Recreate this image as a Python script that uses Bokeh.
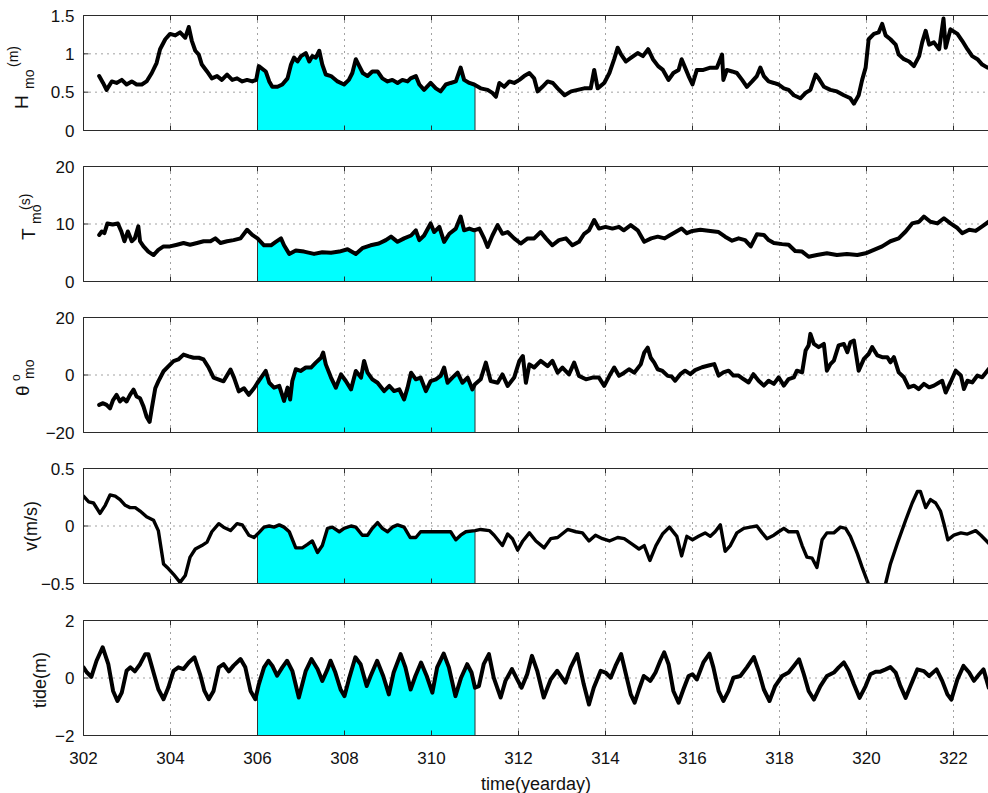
import numpy as np
from math import pi
from bokeh.plotting import figure
from bokeh.layouts import column
from bokeh.models import Range1d
from bokeh.core.properties import value
from bokeh.embed import file_html
from bokeh.resources import INLINE

FONT = "Liberation Sans"
X_START = 302
XTICKS = list(range(302, 323, 2))
XLABEL = "time(yearday)"
FILL_START, FILL_END = 306, 311

# ---------------- data ----------------
H_t = [302.36, 302.45, 302.53, 302.65, 302.76, 302.88, 302.99, 303.11, 303.22, 303.34, 303.45, 303.57,
       303.68, 303.76, 303.88, 303.99, 304.11, 304.22, 304.34, 304.42, 304.49, 304.57, 304.65, 304.72,
       304.84, 304.95, 305.07, 305.18, 305.30, 305.42, 305.53, 305.65, 305.76, 305.88, 305.97, 306.03,
       306.19, 306.27, 306.34, 306.46, 306.57, 306.69, 306.77, 306.84, 306.92, 307.00, 307.11, 307.19,
       307.26, 307.34, 307.42, 307.49, 307.57, 307.69, 307.84, 307.99, 308.10, 308.18, 308.26, 308.34,
       308.42, 308.53, 308.64, 308.76, 308.87, 308.99, 309.10, 309.22, 309.33, 309.45, 309.52, 309.64,
       309.72, 309.83, 309.98, 310.10, 310.21, 310.33, 310.44, 310.56, 310.67, 310.75, 310.87, 310.98,
       311.13, 311.29, 311.40, 311.48, 311.56, 311.67, 311.79, 311.90, 312.02, 312.13, 312.25, 312.36,
       312.44, 312.55, 312.67, 312.79, 312.90, 313.06, 313.21, 313.36, 313.51, 313.66, 313.74, 313.82,
       313.97, 314.09, 314.20, 314.28, 314.36, 314.47, 314.59, 314.74, 314.86, 314.98, 315.09, 315.21,
       315.32, 315.45, 315.56, 315.68, 315.75, 315.83, 315.91, 316.00, 316.10, 316.25, 316.41, 316.56,
       316.68, 316.71, 316.79, 316.91, 317.02, 317.14, 317.25, 317.37, 317.48, 317.56, 317.64, 317.75,
       317.87, 317.98, 318.10, 318.21, 318.33, 318.48, 318.60, 318.71, 318.83, 318.90, 319.02, 319.17,
       319.32, 319.48, 319.63, 319.71, 319.82, 319.90, 319.98, 320.05, 320.17, 320.28, 320.36, 320.44,
       320.55, 320.67, 320.74, 320.86, 320.98, 321.09, 321.21, 321.28, 321.36, 321.44, 321.55, 321.67,
       321.77, 321.82, 321.93, 322.09, 322.20, 322.32, 322.43, 322.55, 322.66, 322.78, 322.90, 323.00]
H_v = [0.71, 0.62, 0.53, 0.64, 0.62, 0.66, 0.60, 0.64, 0.60, 0.60, 0.64, 0.75,
       0.88, 1.06, 1.19, 1.26, 1.24, 1.28, 1.21, 1.35, 1.17, 1.04, 0.99, 0.86,
       0.77, 0.68, 0.71, 0.66, 0.73, 0.66, 0.68, 0.64, 0.66, 0.64, 0.66, 0.84,
       0.77, 0.64, 0.57, 0.57, 0.60, 0.68, 0.86, 0.95, 0.90, 0.97, 1.01, 0.90,
       0.97, 0.95, 1.04, 0.86, 0.73, 0.71, 0.64, 0.60, 0.66, 0.75, 0.93, 0.84,
       0.75, 0.71, 0.77, 0.77, 0.68, 0.64, 0.66, 0.62, 0.66, 0.64, 0.68, 0.71,
       0.60, 0.53, 0.62, 0.55, 0.51, 0.60, 0.62, 0.64, 0.82, 0.66, 0.62, 0.60,
       0.55, 0.53, 0.49, 0.44, 0.62, 0.57, 0.64, 0.62, 0.66, 0.71, 0.75, 0.68,
       0.51, 0.57, 0.64, 0.62, 0.55, 0.46, 0.51, 0.53, 0.55, 0.55, 0.79, 0.55,
       0.62, 0.75, 0.93, 1.08, 0.99, 0.90, 0.95, 1.01, 0.97, 1.06, 0.93, 0.84,
       0.79, 0.66, 0.75, 0.79, 0.93, 0.82, 0.71, 0.60, 0.79, 0.79, 0.82, 0.82,
       0.99, 0.66, 0.79, 0.77, 0.75, 0.66, 0.57, 0.64, 0.71, 0.82, 0.71, 0.64,
       0.62, 0.60, 0.55, 0.53, 0.46, 0.42, 0.49, 0.53, 0.73, 0.68, 0.57, 0.53,
       0.51, 0.46, 0.42, 0.35, 0.46, 0.66, 0.82, 1.19, 1.26, 1.28, 1.39, 1.24,
       1.19, 1.12, 0.99, 0.93, 0.90, 0.84, 0.97, 1.15, 1.30, 1.12, 1.15, 1.06,
       1.46, 1.08, 1.32, 1.26, 1.17, 1.06, 0.97, 0.93, 0.86, 0.82, 0.85, 0.80]

T_t = [302.36, 302.42, 302.48, 302.55, 302.67, 302.79, 302.87, 302.94, 303.02, 303.11, 303.18, 303.26,
       303.30, 303.38, 303.49, 303.61, 303.72, 303.84, 303.99, 304.15, 304.30, 304.45, 304.61, 304.76,
       304.92, 305.03, 305.15, 305.30, 305.45, 305.61, 305.76, 305.88, 306.00, 306.15, 306.31, 306.42,
       306.54, 306.61, 306.73, 306.88, 307.07, 307.30, 307.49, 307.69, 307.88, 308.07, 308.26, 308.41,
       308.60, 308.79, 308.95, 309.07, 309.22, 309.37, 309.53, 309.64, 309.72, 309.83, 309.98, 310.06,
       310.18, 310.29, 310.41, 310.56, 310.67, 310.75, 310.87, 310.98, 311.10, 311.21, 311.29, 311.40,
       311.52, 311.63, 311.75, 311.90, 312.05, 312.21, 312.36, 312.51, 312.63, 312.78, 312.93, 313.09,
       313.24, 313.39, 313.51, 313.62, 313.74, 313.85, 314.00, 314.16, 314.31, 314.42, 314.58, 314.74,
       314.89, 315.05, 315.20, 315.36, 315.47, 315.56, 315.75, 315.87, 316.00, 316.18, 316.41, 316.60,
       316.75, 316.91, 317.06, 317.21, 317.34, 317.48, 317.64, 317.75, 317.87, 318.06, 318.21, 318.36,
       318.52, 318.67, 318.86, 319.09, 319.32, 319.55, 319.79, 319.98, 320.17, 320.36, 320.55, 320.74,
       320.90, 321.05, 321.21, 321.32, 321.47, 321.63, 321.78, 321.93, 322.09, 322.20, 322.36, 322.51,
       322.66, 322.81, 323.00]
T_v = [8.1, 8.7, 8.4, 10.1, 9.9, 10.1, 8.7, 7.0, 8.7, 7.0, 7.5, 9.6,
       7.0, 6.1, 5.2, 4.6, 5.5, 6.1, 6.1, 6.4, 6.7, 6.4, 6.7, 7.0,
       7.0, 7.5, 6.7, 7.0, 7.2, 7.5, 9.0, 8.1, 7.5, 6.3, 6.3, 6.9,
       7.5, 6.3, 4.8, 5.4, 5.2, 4.8, 5.1, 5.0, 5.2, 5.6, 4.8, 5.8,
       6.3, 6.6, 7.2, 7.8, 6.9, 7.5, 8.0, 8.9, 7.2, 8.0, 10.1, 8.6,
       9.5, 6.9, 8.3, 9.2, 11.3, 8.9, 9.2, 8.9, 9.2, 7.5, 6.0, 8.0,
       9.8, 8.3, 8.6, 7.5, 6.6, 7.5, 7.5, 8.6, 7.5, 6.3, 7.2, 7.5,
       6.3, 6.9, 8.3, 8.9, 10.7, 9.2, 9.5, 9.2, 9.5, 8.9, 9.8, 8.9,
       6.9, 7.5, 7.8, 7.5, 8.0, 8.4, 9.2, 8.4, 8.8, 9.0, 8.8, 8.6,
       7.8, 7.1, 7.5, 7.2, 6.1, 8.2, 8.1, 7.2, 6.7, 6.5, 6.4, 5.3,
       5.2, 4.3, 4.6, 4.9, 4.6, 4.8, 4.6, 4.9, 5.5, 6.1, 7.0, 7.5,
       8.7, 10.1, 10.4, 11.3, 10.4, 10.1, 11.0, 10.1, 9.3, 8.4, 9.0, 8.8,
       9.6, 10.4, 10.2]

TH_t = [302.36, 302.45, 302.53, 302.61, 302.68, 302.76, 302.84, 302.91, 302.99, 303.07, 303.15, 303.22,
        303.30, 303.38, 303.45, 303.52, 303.57, 303.65, 303.72, 303.84, 303.95, 304.07, 304.18, 304.30,
        304.42, 304.53, 304.65, 304.76, 304.88, 304.99, 305.11, 305.22, 305.38, 305.46, 305.57, 305.69,
        305.80, 305.92, 306.00, 306.11, 306.19, 306.27, 306.38, 306.50, 306.61, 306.69, 306.75, 306.80,
        306.88, 306.99, 307.11, 307.23, 307.34, 307.46, 307.51, 307.57, 307.69, 307.80, 307.92, 308.03,
        308.15, 308.26, 308.38, 308.45, 308.53, 308.64, 308.76, 308.91, 309.03, 309.14, 309.26, 309.37,
        309.45, 309.53, 309.64, 309.75, 309.87, 309.98, 310.10, 310.21, 310.29, 310.37, 310.48, 310.60,
        310.71, 310.83, 310.94, 311.00, 311.13, 311.25, 311.36, 311.52, 311.63, 311.75, 311.90, 312.02,
        312.10, 312.17, 312.25, 312.36, 312.51, 312.67, 312.78, 312.90, 313.01, 313.16, 313.28, 313.39,
        313.55, 313.70, 313.85, 313.97, 314.09, 314.20, 314.31, 314.43, 314.54, 314.66, 314.81, 314.89,
        314.97, 315.04, 315.12, 315.20, 315.31, 315.43, 315.52, 315.60, 315.72, 315.83, 315.95, 316.06,
        316.22, 316.37, 316.50, 316.60, 316.71, 316.83, 316.94, 317.06, 317.17, 317.29, 317.40, 317.52,
        317.64, 317.75, 317.87, 317.98, 318.10, 318.21, 318.33, 318.40, 318.52, 318.60, 318.67, 318.71,
        318.79, 318.90, 319.02, 319.09, 319.17, 319.25, 319.36, 319.48, 319.56, 319.63, 319.71, 319.82,
        319.94, 320.05, 320.13, 320.25, 320.36, 320.48, 320.55, 320.63, 320.74, 320.86, 320.97, 321.09,
        321.20, 321.32, 321.44, 321.55, 321.67, 321.74, 321.82, 321.93, 322.05, 322.17, 322.24, 322.32,
        322.43, 322.55, 322.66, 322.81, 323.00]
TH_v = [-10.4, -9.8, -10.4, -11.6, -8.7, -6.9, -9.2, -8.1, -9.2, -6.9, -5.1, -7.5,
        -8.1, -11.0, -14.5, -16.3, -11.6, -4.6, -2.2, 1.3, 3.0, 4.8, 5.4, 7.1,
        6.5, 6.0, 6.0, 5.4, 2.5, -0.9, -1.6, -2.2, 1.9, -0.9, -5.7, -4.6,
        -6.9, -4.6, -2.7, -0.3, 1.4, -2.7, -4.4, -3.8, -9.0, -4.4, -8.5, -2.1,
        2.0, 1.4, 2.6, 2.6, 4.3, 6.0, 7.8, 3.7, -0.9, -4.4, 0.2, -2.1,
        -5.0, 1.4, -0.9, 4.9, 0.8, -1.5, -2.7, -5.6, -3.8, -5.6, -5.0, -8.5,
        -4.4, 0.8, -1.5, -0.9, -5.6, -2.1, -1.5, -0.3, 2.6, -2.7, -0.9, 0.8,
        -2.7, -0.9, -5.0, -3.2, -1.5, 4.3, -2.1, -2.7, 0.2, -3.8, -0.9, 4.9,
        6.6, -2.7, 3.7, 2.6, 4.9, 3.1, 4.9, 0.8, 2.6, 0.2, 4.3, -0.3,
        -1.5, -0.9, -0.9, -3.8, -0.3, 2.6, -0.3, 0.8, 2.0, 0.8, 3.7, 7.8,
        9.5, 6.0, 4.3, 2.0, 1.4, -0.3, -0.5, -2.0, 0.3, 1.5, 0.3, 1.7,
        2.7, 3.3, 3.8, -0.2, 0.9, 1.5, -0.2, -0.2, -1.4, -2.6, 0.3, -2.0,
        -3.7, -2.0, -3.1, -0.8, -3.7, -1.4, -0.8, 1.5, 0.9, 8.5, 10.3, 14.3,
        10.8, 9.7, 10.8, 1.5, 3.8, 5.0, 10.3, 10.8, 7.9, 11.4, 12.0, 1.5,
        5.6, 7.3, 9.7, 6.8, 6.2, 6.2, 4.4, 6.2, 0.9, -0.8, -4.3, -3.7,
        -4.9, -3.1, -4.3, -3.7, -2.6, -2.0, -6.1, -2.6, 1.5, -0.2, -4.9, -2.0,
        -2.6, -0.2, -0.8, 2.1, 2.5]

V_t = [302.00, 302.12, 302.23, 302.38, 302.50, 302.61, 302.73, 302.84, 302.96, 303.07, 303.19, 303.30,
       303.45, 303.61, 303.72, 303.84, 303.95, 304.07, 304.22, 304.34, 304.45, 304.57, 304.72, 304.84,
       304.95, 305.11, 305.22, 305.38, 305.53, 305.65, 305.80, 305.92, 306.00, 306.15, 306.27, 306.38,
       306.50, 306.61, 306.73, 306.88, 307.03, 307.15, 307.26, 307.38, 307.49, 307.61, 307.72, 307.88,
       307.99, 308.15, 308.26, 308.41, 308.53, 308.64, 308.76, 308.87, 308.99, 309.10, 309.22, 309.37,
       309.51, 309.64, 309.75, 309.98, 310.25, 310.44, 310.56, 310.67, 310.79, 311.00, 311.13, 311.33,
       311.44, 311.63, 311.75, 311.86, 311.98, 312.10, 312.25, 312.40, 312.59, 312.74, 312.90, 313.13,
       313.32, 313.47, 313.62, 313.77, 313.93, 314.09, 314.28, 314.43, 314.62, 314.77, 314.89, 315.02,
       315.16, 315.31, 315.47, 315.64, 315.75, 315.87, 316.00, 316.14, 316.29, 316.41, 316.52, 316.64,
       316.75, 316.87, 317.02, 317.18, 317.33, 317.48, 317.60, 317.71, 317.87, 317.98, 318.10, 318.21,
       318.41, 318.52, 318.63, 318.75, 318.86, 318.98, 319.09, 319.25, 319.40, 319.52, 319.63, 319.79,
       319.90, 320.06, 320.25, 320.44, 320.55, 320.71, 320.90, 321.05, 321.17, 321.24, 321.36, 321.47,
       321.59, 321.70, 321.78, 321.87, 322.01, 322.17, 322.32, 322.51, 322.63, 322.81, 323.00]
V_v = [0.26, 0.21, 0.20, 0.11, 0.18, 0.27, 0.26, 0.23, 0.18, 0.16, 0.16, 0.13,
       0.08, 0.05, -0.04, -0.33, -0.37, -0.42, -0.49, -0.43, -0.27, -0.20, -0.17, -0.14,
       -0.05, 0.02, -0.01, -0.04, 0.02, 0.01, -0.08, -0.10, -0.07, -0.01, 0.00, -0.01,
       0.01, -0.01, -0.05, -0.19, -0.19, -0.16, -0.13, -0.23, -0.17, -0.02, -0.01, -0.05,
       -0.02, 0.00, -0.01, -0.08, -0.08, -0.02, 0.03, -0.02, -0.05, -0.01, 0.01, -0.01,
       -0.10, -0.10, -0.05, -0.05, -0.05, -0.05, -0.12, -0.08, -0.05, -0.04, -0.03, -0.04,
       -0.08, -0.17, -0.07, -0.11, -0.21, -0.13, -0.06, -0.13, -0.19, -0.11, -0.10, -0.03,
       -0.05, -0.06, -0.13, -0.08, -0.11, -0.13, -0.10, -0.11, -0.16, -0.20, -0.17, -0.30,
       -0.17, -0.07, -0.01, -0.09, -0.26, -0.09, -0.12, -0.09, -0.06, -0.09, -0.05, 0.01,
       -0.22, -0.17, -0.06, -0.02, -0.01, 0.00, -0.06, -0.11, -0.08, -0.05, -0.02, -0.05,
       -0.05, -0.17, -0.27, -0.28, -0.36, -0.12, -0.06, -0.06, -0.01, -0.02, -0.09, -0.24,
       -0.36, -0.52, -0.58, -0.50, -0.33, -0.15, 0.05, 0.20, 0.30, 0.30, 0.16, 0.23,
       0.20, 0.13, 0.02, -0.12, -0.08, -0.06, -0.07, -0.04, -0.08, -0.15, -0.15]

TIDE_t = [302.00, 302.08, 302.18, 302.30, 302.44, 302.57, 302.68, 302.78, 302.88, 302.99, 303.08, 303.18,
          303.30, 303.42, 303.49, 303.61, 303.72, 303.84, 303.95, 304.07, 304.18, 304.30, 304.42, 304.55,
          304.68, 304.78, 304.88, 304.99, 305.11, 305.22, 305.34, 305.45, 305.61, 305.72, 305.84, 305.95,
          306.03, 306.15, 306.25, 306.34, 306.45, 306.57, 306.68, 306.80, 306.95, 307.11, 307.24, 307.38,
          307.49, 307.61, 307.68, 307.79, 307.91, 308.00, 308.10, 308.25, 308.37, 308.51, 308.60, 308.75,
          308.89, 309.02, 309.13, 309.29, 309.40, 309.52, 309.63, 309.76, 309.89, 310.02, 310.13, 310.28,
          310.40, 310.55, 310.68, 310.82, 310.92, 311.00, 311.09, 311.20, 311.32, 311.43, 311.59, 311.70,
          311.85, 311.97, 312.07, 312.20, 312.31, 312.43, 312.58, 312.74, 312.89, 313.08, 313.20, 313.35,
          313.50, 313.62, 313.73, 313.89, 314.00, 314.12, 314.23, 314.36, 314.46, 314.58, 314.67, 314.77,
          314.88, 315.03, 315.15, 315.26, 315.35, 315.45, 315.56, 315.68, 315.79, 315.91, 316.00, 316.10,
          316.25, 316.39, 316.48, 316.60, 316.71, 316.83, 316.94, 317.10, 317.25, 317.41, 317.52, 317.64,
          317.77, 317.90, 318.06, 318.21, 318.33, 318.45, 318.56, 318.67, 318.79, 318.94, 319.09, 319.25,
          319.36, 319.48, 319.59, 319.71, 319.84, 319.98, 320.09, 320.21, 320.32, 320.44, 320.55, 320.67,
          320.78, 320.90, 321.01, 321.17, 321.32, 321.44, 321.61, 321.74, 321.86, 321.95, 322.09, 322.23,
          322.36, 322.47, 322.59, 322.69, 322.81, 323.00]
TIDE_v = [0.37, 0.19, 0.04, 0.60, 1.07, 0.48, -0.45, -0.80, -0.51, 0.25, 0.37, 0.23,
          0.48, 0.83, 0.83, 0.19, -0.39, -0.74, -0.33, 0.25, 0.37, 0.31, 0.54, 0.72,
          0.13, -0.45, -0.74, -0.45, 0.37, 0.48, 0.23, 0.43, 0.66, 0.37, -0.45, -0.74,
          -0.22, 0.37, 0.60, 0.43, 0.08, 0.37, 0.60, 0.25, -0.68, 0.25, 0.66, 0.31,
          -0.10, 0.31, 0.60, 0.19, -0.40, -0.63, -0.05, 0.72, 0.48, -0.28, 0.07, 0.60,
          0.07, -0.57, 0.19, 0.83, 0.37, -0.40, 0.07, 0.54, 0.07, -0.51, 0.37, 0.85,
          0.37, -0.63, 0.01, 0.48, 0.19, -0.34, -0.28, 0.48, 0.83, 0.01, -0.68, -0.10,
          0.31, -0.05, -0.34, 0.13, 0.77, 0.25, -0.68, -0.05, 0.25, -0.16, 0.37, 0.83,
          -0.22, -0.92, -0.34, 0.25, 0.19, 0.01, 0.42, 0.83, 0.19, -0.57, -0.86, -0.40,
          0.07, -0.10, 0.19, 0.60, 0.89, 0.48, -0.45, -0.86, -0.40, 0.07, 0.13, -0.05,
          0.54, 0.85, 0.37, -0.45, -0.80, -0.45, 0.01, 0.07, 0.37, 0.73, 0.25, -0.40,
          -0.80, -0.28, 0.07, 0.19, 0.42, 0.65, 0.13, -0.45, -0.75, -0.28, 0.07, 0.19,
          0.37, 0.54, 0.25, -0.22, -0.69, -0.28, 0.13, 0.22, 0.22, 0.30, 0.38, 0.19,
          -0.28, -0.69, -0.28, 0.30, 0.24, 0.07, 0.30, -0.10, -0.57, -0.75, -0.05, 0.42,
          0.19, -0.10, 0.13, 0.30, -0.34, -0.60]

H_TICKS = [0, 0.5, 1, 1.5]
T_TICKS = [0, 10, 20]
TH_TICKS = [-20, 0, 20]
V_TICKS = [-0.5, 0, 0.5]
TIDE_TICKS = [-2, 0, 2]

# ---------------- layout constants (pixels) ----------------
W = 988
LEFT = 83                   # frame left edge
PX_PER_DAY = 43.5
X_END = X_START + (W - LEFT) / PX_PER_DAY
X_LO = X_START - LEFT / PX_PER_DAY
HEIGHTS = [151, 151, 151, 152, 188]
TOP = 15
FRAME_H = 115
TICK_LEN = 5
AXIS_COLOR = "#2b2b2b"
GRID_COLOR = "#444444"
TXT = "#111111"


def fmt(v):
    return ("%g" % v).replace("-", "\u2212")


# y-label pieces: (text, font px, baseline x px, start offset px below frame middle)
panels = [
    dict(t=H_t, v=H_v, yr=(0, 1.5), ticks=H_TICKS, lw=4.0,
         label=[("H", 19, 21, 36), ("mo", 14, 28, 16), ("(m)", 14, 12, -6)]),
    dict(t=T_t, v=T_v, yr=(0, 20), ticks=T_TICKS, lw=4.0,
         label=[("T", 19, 28, 16), ("mo", 14, 35, 0), ("(s)", 14, 24, -14)]),
    dict(t=TH_t, v=TH_v, yr=(-20, 20), ticks=TH_TICKS, lw=4.0,
         label=[("\u03b8", 19, 22, 21), ("o", 12, 15, 6), ("mo", 14, 28, 4)]),
    dict(t=V_t, v=V_v, yr=(-0.5, 0.5), ticks=V_TICKS, lw=3.4,
         label=[("v(m/s)", 18, 30, 0)]),
    dict(t=TIDE_t, v=TIDE_v, yr=(-2, 2), ticks=TIDE_TICKS, lw=4.0,
         label=[("tide(m)", 18, 39, 2)]),
]
CENTRED_LABELS = ("v(m/s)", "tide(m)")

figs = []
for i, pd in enumerate(panels):
    last = i == len(panels) - 1
    h = HEIGHTS[i]
    bottom = h - TOP - FRAME_H
    ymin, ymax = pd["yr"]
    k = (ymax - ymin) / FRAME_H          # data units per pixel (vertical)
    dx = 1 / PX_PER_DAY                  # data units per pixel (horizontal)
    y_lo, y_hi = ymin - bottom * k, ymax + TOP * k

    p = figure(width=W, height=h, output_backend="svg", toolbar_location=None,
               x_range=Range1d(X_LO, X_END), y_range=Range1d(y_lo, y_hi),
               min_border=0, x_axis_location=None, y_axis_location=None)
    p.outline_line_color = None
    p.grid.visible = False
    p.background_fill_color = "white"
    p.border_fill_color = "white"

    # dotted grid inside the box
    p.segment(x0=XTICKS, y0=[ymin] * len(XTICKS), x1=XTICKS, y1=[ymax] * len(XTICKS),
              line_color=GRID_COLOR, line_dash="1 5", line_width=1)
    p.segment(x0=[X_START] * len(pd["ticks"]), y0=pd["ticks"], x1=[X_END] * len(pd["ticks"]),
              y1=pd["ticks"], line_color=GRID_COLOR, line_dash="1 5", line_width=1)

    t = np.array(pd["t"], dtype=float)
    v = np.array(pd["v"], dtype=float)

    # cyan window
    inner = [x for x in t if FILL_START < x < FILL_END]
    ft = [FILL_START] + inner + [FILL_END]
    fv = list(np.interp(ft, t, v))
    p.patch([FILL_START] + ft + [FILL_END], [ymin] + fv + [ymin],
            fill_color="#00FFFF", line_color="#333333", line_width=1)
    p.line(t, v, line_color="black", line_width=pd["lw"], line_join="round", line_cap="round")

    # mask anything drawn outside the axes box
    p.quad(left=[X_LO, X_LO, X_LO], right=[X_START, X_END, X_END],
           bottom=[y_lo, y_lo, ymax], top=[y_hi, ymin, y_hi],
           fill_color="white", line_color=None)

    # box (left, top, bottom) and inward ticks
    p.segment(x0=[X_START, X_START, X_START], y0=[ymin, ymax, ymin],
              x1=[X_START, X_END, X_END], y1=[ymax, ymax, ymin],
              line_color=AXIS_COLOR, line_width=1)
    nx = len(XTICKS)
    p.segment(x0=XTICKS * 2, y0=[ymin] * nx + [ymax] * nx,
              x1=XTICKS * 2, y1=[ymin + TICK_LEN * k] * nx + [ymax - TICK_LEN * k] * nx,
              line_color=AXIS_COLOR, line_width=1)
    ny = len(pd["ticks"])
    p.segment(x0=[X_START] * ny, y0=pd["ticks"], x1=[X_START + TICK_LEN * dx] * ny, y1=pd["ticks"],
              line_color=AXIS_COLOR, line_width=1)

    # y tick labels
    p.text(x=[X_START - 9 * dx] * ny, y=pd["ticks"], text=[fmt(tk) for tk in pd["ticks"]],
           text_font=value(FONT), text_font_size=value("17px"), text_color=TXT,
           text_align="right", text_baseline="middle")

    # x tick labels + axis title on the last panel
    if last:
        p.text(x=XTICKS, y=[ymin - 22 * k] * nx, text=[str(tk) for tk in XTICKS],
               text_font=value(FONT), text_font_size=value("17px"), text_color=TXT,
               text_align="center", text_baseline="middle")
        p.text(x=[(X_START + X_END) / 2], y=[ymin - 48 * k], text=[XLABEL],
               text_font=value(FONT), text_font_size=value("18px"), text_color=TXT,
               text_align="center", text_baseline="middle")

    # rotated y label built from pieces
    ymid = (ymin + ymax) / 2
    for text, size, bx, dy in pd["label"]:
        centred = text in CENTRED_LABELS
        p.text(x=[X_START - (LEFT - bx) * dx], y=[ymid - dy * k], text=[text], angle=pi / 2,
               text_font=value(FONT), text_font_size=value(f"{size}px"), text_color=TXT,
               text_align="center" if centred else "left", text_baseline="alphabetic")

    figs.append(p)

layout = column(*figs, spacing=0)
open("out.html", "w").write(file_html(layout, INLINE))
